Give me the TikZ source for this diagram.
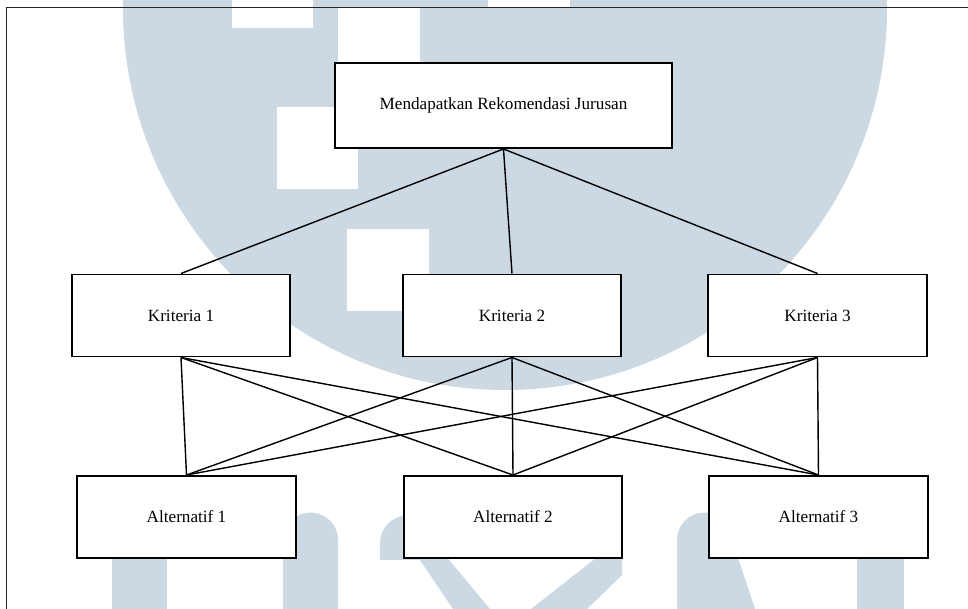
\documentclass[tikz,border=0pt]{standalone}
\usepackage{fontspec}
\setmainfont{Liberation Serif}
\definecolor{umnbiru}{RGB}{204,217,227}

\begin{document}
\begin{tikzpicture}[x=0.025cm,y=-0.025cm]
\tikzstyle{every node}+=[inner sep=0pt,font=\fontsize{12.2}{14}\selectfont]
\tikzstyle{kotak}=[draw=black,fill=white,line width=1.4pt,minimum width=5.45cm,minimum height=2.05cm]
\tikzstyle{garis}=[black,line width=1pt]
\useasboundingbox (0,0) rectangle (968,609);
\begin{scope}
\clip (0,0) rectangle (968,609);
\fill [umnbiru] (505,8) circle (382);
\fill [white] (232,0) rectangle (313,28);
\fill [white] (488,0) rectangle (570,7);
\fill [white] (338,8) rectangle (420,90);
\fill [white] (277,107) rectangle (358,189);
\fill [white] (347,229) rectangle (429,311);
\fill [umnbiru] (112,540) rectangle (167,609);
\fill [umnbiru] (283,609) -- (283,540) arc [start angle=180,end angle=360,radius=27.5] -- (338,609) -- cycle;
\fill [umnbiru] (380,560) -- (380,543) arc [start angle=180,end angle=360,radius=27.5] -- (490,609) -- (453,609) -- (420,560) -- cycle;
\fill [umnbiru] (531,609) -- (587,609) -- (622,575) -- (622,558) -- (596,558) -- cycle;
\fill [umnbiru] (677,609) -- (677,540) arc [start angle=180,end angle=360,radius=27.5] -- (755,609) -- cycle;
\fill [umnbiru] (857,540) rectangle (904,609);
\end{scope}
\draw [black!85,line width=0.7pt] (6,609) -- (6,7) -- (968,7);
\node [kotak,minimum width=8.425cm,minimum height=2.125cm] (utama) at (503.5,105.5) {Mendapatkan Rekomendasi Jurusan};
\node [kotak] (k1) at (181,315.5) {Kriteria 1};
\node [kotak] (k2) at (512,315.5) {Kriteria 2};
\node [kotak] (k3) at (817.5,315.5) {Kriteria 3};
\node [kotak] (a1) at (186.5,517) {Alternatif 1};
\node [kotak] (a2) at (513,517) {Alternatif 2};
\node [kotak] (a3) at (818.5,517) {Alternatif 3};
\draw [garis] (utama.south) -- (k1.north);
\draw [garis] (utama.south) -- (k2.north);
\draw [garis] (utama.south) -- (k3.north);
\draw [garis] (k1.south) -- (a1.north);
\draw [garis] (k1.south) -- (a2.north);
\draw [garis] (k1.south) -- (a3.north);
\draw [garis] (k2.south) -- (a1.north);
\draw [garis] (k2.south) -- (a2.north);
\draw [garis] (k2.south) -- (a3.north);
\draw [garis] (k3.south) -- (a1.north);
\draw [garis] (k3.south) -- (a2.north);
\draw [garis] (k3.south) -- (a3.north);
\end{tikzpicture}
\end{document}
